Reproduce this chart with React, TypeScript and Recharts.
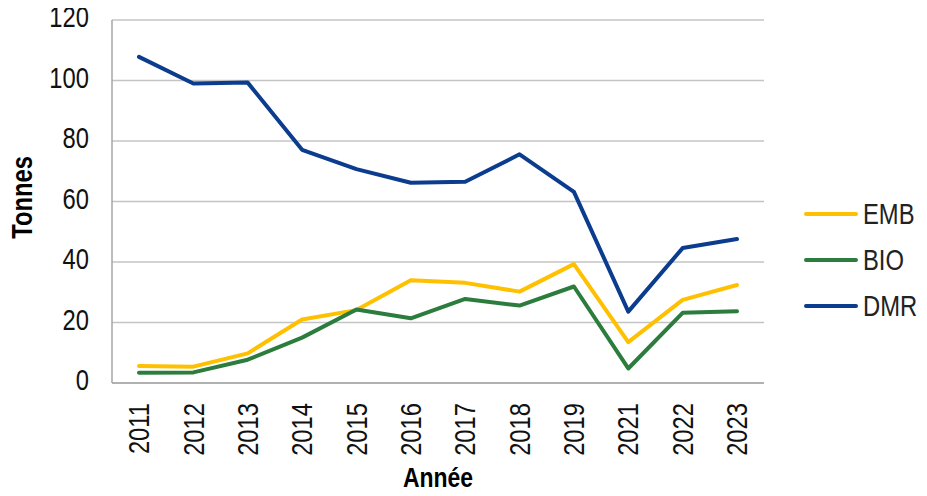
import { CartesianGrid, Line, LineChart, XAxis, YAxis } from 'recharts'

const years = ['2011', '2012', '2013', '2014', '2015', '2016', '2017', '2018', '2019', '2021', '2022', '2023']
const emb = [5.6, 5.4, 9.8, 21.0, 24.1, 34.0, 33.1, 30.2, 39.3, 13.5, 27.5, 32.4]
const bio = [3.4, 3.5, 7.7, 15.0, 24.3, 21.4, 27.8, 25.6, 31.9, 4.8, 23.2, 23.7]
const dmr = [107.8, 99.0, 99.3, 77.1, 70.7, 66.2, 66.5, 75.6, 63.2, 23.6, 44.6, 47.6]
const yTicks = [0, 20, 40, 60, 80, 100, 120]

const series = [
  { key: 'EMB', values: emb, color: '#FFC000' },
  { key: 'BIO', values: bio, color: '#2C7D3D' },
  { key: 'DMR', values: dmr, color: '#0B3C8E' },
]

const data = years.map((year, i) => ({
  year,
  EMB: emb[i],
  BIO: bio[i],
  DMR: dmr[i],
}))

// no narrow font installed, so squeeze Liberation Sans horizontally
const font = "'Liberation Sans', Arial, sans-serif"
const squeeze = 0.82

function YTick({ x, y, payload }: any) {
  return (
    <text
      transform={`translate(${x},${y - 3}) scale(${squeeze},1)`}
      dy='0.35em'
      textAnchor='end'
      fontSize={29}
      fontFamily={font}
      fill='#111'
    >
      {payload.value}
    </text>
  )
}

function XTick({ x, y, payload }: any) {
  return (
    <text
      transform={`translate(${x},${y}) rotate(-90) scale(${squeeze},1)`}
      dy='0.35em'
      textAnchor='end'
      fontSize={29}
      fontFamily={font}
      fill='#111'
    >
      {payload.value}
    </text>
  )
}

function LegendBox() {
  return (
    <div style={{ position: 'absolute', left: 804, top: 191, fontFamily: font, fontSize: 29, color: '#222' }}>
      {series.map((s) => (
        <div key={s.key} style={{ display: 'flex', alignItems: 'center', height: 46 }}>
          <div style={{ width: 54, height: 4, borderRadius: 2, background: s.color, marginRight: 5 }} />
          <span style={{ display: 'inline-block', transform: `scaleX(${squeeze})`, transformOrigin: 'left center' }}>
            {s.key}
          </span>
        </div>
      ))}
    </div>
  )
}

export default function App() {
  return (
    <div style={{ margin: -8, background: '#fff', width: 927, height: 496, position: 'relative' }}>
      <LineChart width={927} height={496} data={data} margin={{ top: 20, right: 163, bottom: 0, left: 0 }}>
        <CartesianGrid vertical={false} stroke='#c4c4c4' strokeWidth={1.5} />
        <XAxis
          dataKey='year'
          height={113}
          padding={{ left: 27, right: 27 }}
          tickLine={false}
          tickSize={0}
          tickMargin={20}
          interval={0}
          stroke='#a6a6a6'
          strokeWidth={1.5}
          tick={<XTick />}
          label={({ viewBox }: any) => (
            <text
              transform={`translate(${viewBox.x + viewBox.width / 2},487) scale(${squeeze},1)`}
              textAnchor='middle'
              fontSize={28}
              fontWeight='bold'
              fontFamily={font}
              fill='#000'
            >
              Année
            </text>
          )}
        />
        <YAxis
          width={112}
          domain={[0, 120]}
          ticks={yTicks}
          tickLine={false}
          tickSize={0}
          tickMargin={23}
          stroke='#a6a6a6'
          strokeWidth={1.5}
          tick={<YTick />}
          label={({ viewBox }: any) => (
            <text
              transform={`translate(${viewBox.x + 22},${viewBox.y + viewBox.height / 2 - 4}) rotate(-90) scale(${squeeze},1)`}
              dy='0.35em'
              textAnchor='middle'
              fontSize={29}
              fontWeight='bold'
              fontFamily={font}
              fill='#000'
            >
              Tonnes
            </text>
          )}
        />
        {series.map((s) => (
          <Line
            key={s.key}
            type='linear'
            dataKey={s.key}
            stroke={s.color}
            strokeWidth={4}
            strokeLinecap='round'
            strokeLinejoin='round'
            dot={false}
            activeDot={false}
            isAnimationActive={false}
          />
        ))}
      </LineChart>
      <LegendBox />
    </div>
  )
}
